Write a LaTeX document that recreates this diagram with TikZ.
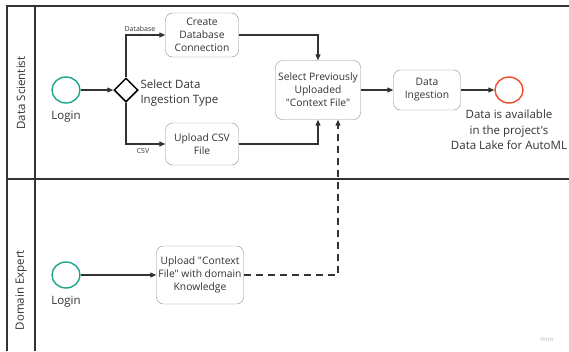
\documentclass[tikz,border=0pt]{standalone}
\usepackage{fontspec}
\setmainfont{Open Sans}[Ligatures=TeXOff]
\usetikzlibrary{positioning,arrows.meta,shapes.geometric,calc}

\definecolor{startgreen}{HTML}{1BA68A}
\definecolor{endred}{HTML}{F04A2A}
\definecolor{flowgray}{HTML}{333333}
\definecolor{boxgray}{HTML}{8C8C8C}

\begin{document}
\begin{tikzpicture}[x=1pt, y=-1pt,
  task/.style={draw=boxgray, rounded corners=7pt, fill=white, minimum width=73pt,
               minimum height=44pt, font=\fontsize{10.3}{13}\selectfont, align=center,
               inner sep=1pt, text=flowgray},
  event/.style={ellipse, line width=1.4pt, minimum width=28pt, minimum height=26pt, inner sep=0pt},
  startev/.style={event, draw=startgreen},
  endev/.style={event, draw=endred},
  gateway/.style={diamond, draw=black, line width=1.5pt, minimum size=24pt, inner sep=0pt},
  flow/.style={-{Triangle[length=6pt,width=5pt]}, line width=1.1pt, draw=flowgray},
  assoc/.style={flow, dash pattern=on 7pt off 5pt},
  lbl/.style={font=\fontsize{11.5}{15.5}\selectfont, text=flowgray, align=center},
  tag/.style={font=\fontsize{7}{8}\selectfont, text=flowgray, inner sep=1pt},
  lane/.style={line width=1.7pt, draw=flowgray},
]
\useasboundingbox (0,0) rectangle (569,351);

% pool and lanes
\draw[lane] (569,6) -- (7,6) -- (7,351);
\draw[lane] (35,6) -- (35,351);
\draw[lane] (7,179) -- (569,179);
\node[lbl, rotate=90] (lane1) at (21,93)  {Data Scientist};
\node[lbl, rotate=90] (lane2) at (21,290) {Domain Expert};

% data scientist lane
\node[startev] (login) at (66,90) {};
\node[lbl, below=4pt of login] (loginlbl) {Login};
\node[gateway] (gw) at (126,90) {};
\node[lbl, anchor=west, align=left] (gwlbl) at (137,93) {Select Data\\Ingestion Type};
\node[task] (dbconn) at (202,35) {Create\\Database\\Connection};
\node[task, minimum height=42pt] (csv) at (202,144) {Upload CSV\\File};
\node[task, minimum width=85pt, minimum height=59pt] (ctxsel) at (318,90)
  {Select Previously\\Uploaded\\"Context File"};
\node[task, minimum width=67pt, minimum height=40pt] (ingest) at (427,90) {Data\\Ingestion};
\node[endev] (done) at (509,90) {};
\node[lbl, below=3pt of done] (donelbl) {Data is available\\in the project's\\Data Lake for AutoML};

% domain expert lane
\node[startev] (login2) at (66,275) {};
\node[lbl, below=4pt of login2] (login2lbl) {Login};
\node[task, minimum width=87pt, minimum height=58pt] (ctxup) at (200,275)
  {Upload "Context\\File" with domain\\Knowledge};

% sequence flows
\draw[flow] (login) -- (gw);
\draw[flow] (gw.north) |- (dbconn.west);
\draw[flow] (gw.south) |- (csv.west);
\coordinate (dbdot) at (140,35);
\coordinate (csvdot) at (141,144);
\fill[flowgray] (dbdot) circle (1.3pt);
\fill[flowgray] (csvdot) circle (1.3pt);
\node[tag, above=2pt of dbdot] (dbtag) {Database};
\node[tag, below=3pt of csvdot, xshift=2pt] (csvtag) {CSV};
\draw[flow] (dbconn.east) -| (ctxsel.north);
\draw[flow] (csv.east) -| (ctxsel.south);
\draw[flow] (ctxsel) -- (ingest);
\draw[flow] (ingest) -- (done);
\draw[flow] (login2) -- (ctxup);
\draw[assoc] (ctxup.east) -| ([xshift=20pt]ctxsel.south);

\node[font=\fontsize{6}{7}\selectfont, text=gray!60] (brand) at (547,339) {miro};
\end{tikzpicture}
\end{document}
